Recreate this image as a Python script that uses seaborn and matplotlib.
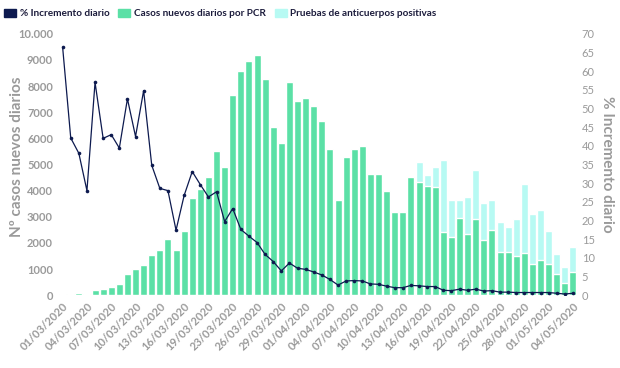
import numpy as np
import pandas as pd
import matplotlib
matplotlib.use('Agg')
import matplotlib.pyplot as plt
import seaborn as sns
from matplotlib.patches import Patch

# dates (one day, 21/03, is missing in the source data)
dates = pd.date_range('2020-03-01', '2020-05-04')
dates = dates[dates != pd.Timestamp('2020-03-21')]
date_labels = [d.strftime('%d/%m/%Y') for d in dates]

# new daily cases by PCR
pcr = [50, 60, 70, 60, 190, 230, 330, 420, 800, 990,
       1170, 1530, 1720, 2150, 1720, 2460, 3700, 4050, 4520, 5530,
       4900, 7660, 8560, 8950, 9180, 8280, 6430, 5820, 8150, 7440,
       7550, 7250, 6680, 5580, 3650, 5270, 5590, 5720, 4620, 4620,
       3970, 3170, 3200, 4520, 4330, 4190, 4140, 2410, 2210, 2950,
       2330, 2910, 2110, 2490, 1650, 1650, 1500, 1600, 1190, 1360,
       1210, 800, 460, 880]

# positive antibody tests (stacked on top of pcr)
anticuerpos = [0] * 44 + [760, 410, 750, 2750, 1440, 680, 1410, 1890, 1410, 1160,
                          1160, 960, 1400, 2640, 1910, 1890, 1230, 770, 620, 950]

# daily % increase
incremento = [66.4, 42.1, 38.0, 28.0, 57.0, 42.0, 43.0, 39.4, 52.6, 42.5,
              54.8, 34.8, 28.6, 28.0, 17.4, 26.7, 33.1, 29.6, 26.3, 27.7,
              19.7, 23.2, 17.6, 15.8, 14.1, 10.9, 9.0, 6.5, 8.6, 7.2,
              6.9, 6.2, 5.4, 4.2, 2.7, 3.8, 3.9, 3.8, 3.0, 2.9,
              2.4, 2.0, 2.0, 2.6, 2.5, 2.3, 2.3, 1.3, 1.2, 1.6,
              1.3, 1.6, 1.1, 1.2, 0.8, 0.8, 0.7, 0.7, 0.7, 0.7,
              0.7, 0.5, 0.3, 0.5]

df = pd.DataFrame({'fecha': date_labels, 'pcr': pcr, 'anticuerpos': anticuerpos,
                   'incremento': incremento})
df['total'] = df['pcr'] + df['anticuerpos']

sns.set_style('white')
plt.rcParams['font.family'] = ['Lato', 'DejaVu Sans']

verde = '#5be0a6'
cian = '#b7faf3'
azul = '#0d1a4f'
gris = '#9a9a9a'

fig, ax = plt.subplots(figsize=(6.2, 3.68), dpi=100)
fig.subplots_adjust(left=0.0945, right=0.9306, bottom=0.198, top=0.908)

sns.barplot(data=df, x='fecha', y='total', color=cian, width=0.86,
            saturation=1, ax=ax)
sns.barplot(data=df, x='fecha', y='pcr', color=verde, width=0.86,
            saturation=1, ax=ax)

ax2 = ax.twinx()
sns.lineplot(x=np.arange(len(df)), y=df['incremento'], color=azul, lw=0.9,
             marker='o', markersize=2.6, markeredgewidth=0, ax=ax2)

ax.set_xlim(-0.5, len(df) - 0.5)
ax.set_ylim(0, 10000)
ax2.set_ylim(0, 70)

ax.set_yticks(range(0, 10001, 1000))
ax.set_yticklabels([str(v) for v in range(0, 10000, 1000)] + ['10.000'])
ax2.set_yticks(range(0, 71, 5))

ax.set_xticks(range(0, len(df), 3))
ax.set_xticklabels(df['fecha'][::3], rotation=45, ha='right',
                   rotation_mode='anchor')

for a in (ax, ax2):
    for s in a.spines.values():
        s.set_visible(False)
    a.tick_params(length=0, labelcolor=gris, labelsize=8)
ax.tick_params(axis='y', pad=4)
ax.tick_params(axis='x', pad=4)
for lab in ax.get_yticklabels() + ax.get_xticklabels():
    lab.set_fontweight('bold')

ax.set_xlabel('')
ax.set_ylabel('Nº casos nuevos diarios', color=gris, fontsize=11,
              fontweight='bold')
ax.yaxis.set_label_coords(-0.066, 0.53)
ax2.set_ylabel('% Incremento diario', color=gris, fontsize=11,
               fontweight='bold', rotation=270, labelpad=14)

handles = [Patch(color=azul), Patch(color=verde), Patch(color=cian)]
labels = ['% Incremento diario', 'Casos nuevos diarios por PCR',
          'Pruebas de anticuerpos positivas']
fig.legend(handles, labels, loc='upper left', bbox_to_anchor=(-0.008, 1.0),
           ncol=3, frameon=False, handlelength=1.2,
           handleheight=0.8, handletextpad=0.35, columnspacing=0.9,
           labelcolor='#1c1c3c', prop={'weight': 'bold', 'size': 7.2})

plt.savefig('out.png', dpi=100)
